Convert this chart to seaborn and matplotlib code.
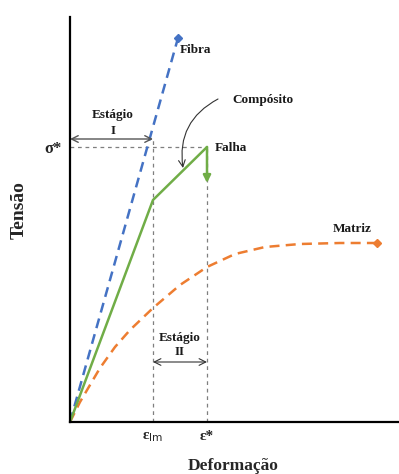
import matplotlib
matplotlib.use("Agg")
import matplotlib.pyplot as plt
import seaborn as sns
import pandas as pd

# strain / stress in arbitrary units
fibra_x = [0.0, 1.08]
fibra_y = [0.0, 3.84]

comp_x = [0.0, 0.83, 1.37]
comp_y = [0.0, 2.22, 2.75]

matriz_x = [0.0, 0.10, 0.20, 0.30, 0.45, 0.60, 0.83, 1.10, 1.37, 1.65, 1.95, 2.30, 2.70, 3.07]
matriz_y = [0.0, 0.20, 0.37, 0.54, 0.75, 0.92, 1.14, 1.37, 1.55, 1.68, 1.75, 1.78, 1.79, 1.79]

eps_lm = 0.83
eps_star = 1.37
sigma_star = 2.75
falha_drop = 2.39

sns.set_style("white")
plt.rcParams['font.family'] = ['Liberation Serif', 'DejaVu Serif']

fig = plt.figure(figsize=(3.99, 4.74), dpi=100)
ax = fig.add_axes([70/399, 52/474, 329/399, 405/474])
ax.set_xlim(0, 3.29)
ax.set_ylim(0, 4.05)

blue = "#4472C4"
orange = "#ED7D31"
green = "#70AD47"
grey = "#7f7f7f"

# guide lines
ax.plot([0, eps_star], [sigma_star, sigma_star], color=grey, lw=0.9, ls=(0, (3, 3)))
ax.plot([eps_lm, eps_lm], [0, 2.83], color=grey, lw=0.9, ls=(0, (3, 3)))
ax.plot([eps_star, eps_star], [0, sigma_star], color=grey, lw=0.9, ls=(0, (3, 3)))

df_f = pd.DataFrame({"x": fibra_x, "y": fibra_y})
df_c = pd.DataFrame({"x": comp_x, "y": comp_y})
df_m = pd.DataFrame({"x": matriz_x, "y": matriz_y})

sns.lineplot(data=df_f, x="x", y="y", ax=ax, color=blue, lw=1.8, linestyle=(0, (4, 2.5)))
ax.plot(fibra_x[-1], fibra_y[-1], marker="D", color=blue, ms=4.5)
sns.lineplot(data=df_m, x="x", y="y", ax=ax, color=orange, lw=1.8, linestyle=(0, (4, 2.5)))
ax.plot(matriz_x[-1], matriz_y[-1], marker="D", color=orange, ms=4.5)
sns.lineplot(data=df_c, x="x", y="y", ax=ax, color=green, lw=1.8)

# failure drop
ax.annotate("", xy=(eps_star, falha_drop), xytext=(eps_star, sigma_star),
            arrowprops=dict(arrowstyle="-|>", color=green, lw=1.8, mutation_scale=11, shrinkA=0, shrinkB=0))

# stage arrows
ax.annotate("", xy=(0, 2.83), xytext=(eps_lm, 2.83),
            arrowprops=dict(arrowstyle="<->", color="#555555", lw=1.0, mutation_scale=12, shrinkA=0, shrinkB=0))
ax.annotate("", xy=(eps_lm, 0.60), xytext=(eps_star, 0.60),
            arrowprops=dict(arrowstyle="<->", color="#333333", lw=0.8, mutation_scale=12, shrinkA=0, shrinkB=0))

# curved arrow to composite
ax.annotate("", xy=(1.13, 2.54), xytext=(1.48, 3.23),
            arrowprops=dict(arrowstyle="->", color="#333333", lw=0.8, mutation_scale=12,
                            connectionstyle="arc3,rad=0.35", shrinkA=0, shrinkB=0))

tkw = dict(fontsize=9.5, fontweight="bold", color="#1a1a1a")
ax.text(1.10, 3.72, "Fibra", ha="left", va="center", **tkw)
ax.text(1.62, 3.22, "Compósito", ha="left", va="center", **tkw)
ax.text(1.45, 2.74, "Falha", ha="left", va="center", **tkw)
ax.text(3.02, 1.93, "Matriz", ha="right", va="center", **tkw)
ax.text(0.43, 3.07, "Estágio", ha="center", va="center", **tkw)
ax.text(0.43, 2.91, "I", ha="center", va="center", **tkw)
ax.text(1.10, 0.84, "Estágio", ha="center", va="center", **tkw)
ax.text(1.10, 0.70, "II", ha="center", va="center", **tkw)

ax.set_xticks([eps_lm, eps_star])
ax.set_xticklabels(["ε$_{\\mathrm{lm}}$", "ε*"], fontsize=11, fontweight="bold")
ax.set_yticks([sigma_star])
ax.set_yticklabels(["σ*"], fontsize=12, fontweight="bold")
ax.tick_params(length=0, pad=6)

ax.set_xlabel("Deformação", fontsize=12.5, fontweight="bold", va="center")
ax.xaxis.set_label_coords((233 - 70) / 329, -44 / 405)
ax.set_ylabel("Tensão", fontsize=14, fontweight="bold", va="center")
ax.yaxis.set_label_coords(-51 / 329, (422 - 210) / 405)

for s in ["top", "right"]:
    ax.spines[s].set_visible(False)
for s in ["left", "bottom"]:
    ax.spines[s].set_color("black")
    ax.spines[s].set_linewidth(1.6)

fig.savefig("out.png", dpi=100)
